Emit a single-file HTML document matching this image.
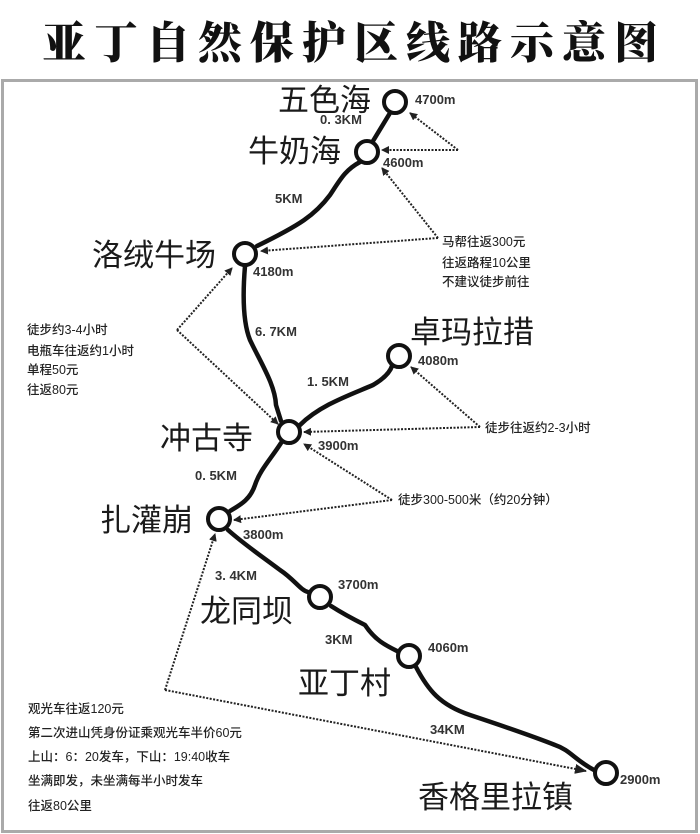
<!DOCTYPE html>
<html><head><meta charset="utf-8"><style>
html,body{margin:0;padding:0;background:#fff;}
svg{display:block;}
.t{font-family:"Liberation Sans","Noto Sans CJK SC",sans-serif;fill:#222;}
.n{font-size:31px;fill:#1a1a1a;}
.s{font-size:13px;font-weight:bold;fill:#333;}
.c{font-size:12.5px;fill:#222;font-weight:500;}
</style></head><body>
<svg width="700" height="834" viewBox="0 0 700 834" xmlns="http://www.w3.org/2000/svg">
<defs>
<marker id="a" markerWidth="8" markerHeight="8" refX="7" refY="4" orient="auto" markerUnits="userSpaceOnUse"><path d="M0,0 L8,4 L0,8 Z" fill="#222"/></marker>
<marker id="b" markerWidth="12" markerHeight="10" refX="11" refY="5" orient="auto" markerUnits="userSpaceOnUse"><path d="M0,0 L12,5 L0,10 Z" fill="#222"/></marker>
</defs>
<rect x="0" y="0" width="700" height="834" fill="#fff"/>
<rect x="2.5" y="80.5" width="694" height="751" fill="none" stroke="#aaa" stroke-width="3"/>
<text x="354" y="58" text-anchor="middle" class="t" style="font-family:'Noto Serif CJK SC','Noto Sans CJK SC',serif;font-size:44px;font-weight:900;letter-spacing:8px;fill:#111">亚丁自然保护区线路示意图</text>

<g fill="none" stroke="#111" stroke-width="4.5" stroke-linecap="round" stroke-linejoin="round">
<path d="M390,113 L373,141"/>
<path d="M360,162 C345,170 340,180 330,195 C315,215 300,225 257,246"/>
<path d="M245,266 C243,290 242,320 250,340 C262,365 275,385 276,405 L281,421"/>
<path d="M300,425 C320,405 350,395 373,385 C385,378 390,372 392,366"/>
<path d="M281,443 C270,460 260,470 255,485 C250,500 240,505 230,511"/>
<path d="M228,530 C245,545 260,555 280,570 C295,580 300,590 308,592"/>
<path d="M331,606 C345,615 355,620 365,625 C375,640 385,645 397,651"/>
<path d="M416,667 C428,690 440,705 470,715 C500,725 530,735 555,745 C570,750 575,760 594,770"/>
</g>
<g fill="#fff" stroke="#111" stroke-width="4">
<circle cx="395" cy="102" r="11"/>
<circle cx="367" cy="152" r="11"/>
<circle cx="245" cy="254" r="11"/>
<circle cx="399" cy="356" r="11"/>
<circle cx="289" cy="432" r="11"/>
<circle cx="219" cy="519" r="11"/>
<circle cx="320" cy="597" r="11"/>
<circle cx="409" cy="656" r="11"/>
<circle cx="606" cy="773" r="11"/>
</g>

<g fill="none" stroke="#222" stroke-width="2" stroke-dasharray="2,1.5">
<path d="M458,150 L410,113" marker-end="url(#a)"/>
<path d="M458,150 L382,150" marker-end="url(#a)"/>
<path d="M438,238 L382,168" marker-end="url(#a)"/>
<path d="M438,238 L261,251" marker-end="url(#a)"/>
<path d="M177,330 L232,268" marker-end="url(#a)"/>
<path d="M177,330 L278,424" marker-end="url(#a)"/>
<path d="M480,427 L304,432" marker-end="url(#a)"/>
<path d="M480,427 L411,367" marker-end="url(#a)"/>
<path d="M392,500 L304,444" marker-end="url(#a)"/>
<path d="M392,500 L234,520" marker-end="url(#a)"/>
<path d="M165,690 L215,534" marker-end="url(#a)"/>
<path d="M165,690 L586,771" marker-end="url(#b)"/>
</g>

<g class="t">
<text x="278" y="111" class="n">五色海</text>
<text x="248" y="162" class="n">牛奶海</text>
<text x="92" y="266" class="n">洛绒牛场</text>
<text x="410" y="343" class="n">卓玛拉措</text>
<text x="160" y="449" class="n">冲古寺</text>
<text x="100" y="531" class="n">扎灌崩</text>
<text x="200" y="622" class="n">龙同坝</text>
<text x="298" y="694" class="n">亚丁村</text>
<text x="418" y="808" class="n">香格里拉镇</text>

<text x="415" y="104" class="s">4700m</text>
<text x="320" y="124" class="s">0. 3KM</text>
<text x="383" y="167" class="s">4600m</text>
<text x="275" y="203" class="s">5KM</text>
<text x="253" y="276" class="s">4180m</text>
<text x="255" y="336" class="s">6. 7KM</text>
<text x="418" y="365" class="s">4080m</text>
<text x="307" y="386" class="s">1. 5KM</text>
<text x="318" y="450" class="s">3900m</text>
<text x="195" y="480" class="s">0. 5KM</text>
<text x="243" y="539" class="s">3800m</text>
<text x="215" y="580" class="s">3. 4KM</text>
<text x="338" y="589" class="s">3700m</text>
<text x="325" y="644" class="s">3KM</text>
<text x="428" y="652" class="s">4060m</text>
<text x="430" y="734" class="s">34KM</text>
<text x="620" y="784" class="s">2900m</text>

<text x="442" y="246" class="c">马帮往返300元</text>
<text x="442" y="267" class="c">往返路程10公里</text>
<text x="442" y="286" class="c">不建议徒步前往</text>
<text x="27" y="334" class="c">徒步约3-4小时</text>
<text x="27" y="355" class="c">电瓶车往返约1小时</text>
<text x="27" y="374" class="c">单程50元</text>
<text x="27" y="394" class="c">往返80元</text>
<text x="485" y="432" class="c">徒步往返约2-3小时</text>
<text x="398" y="504" class="c">徒步300-500米（约20分钟）</text>
<text x="28" y="713" class="c">观光车往返120元</text>
<text x="28" y="737" class="c">第二次进山凭身份证乘观光车半价60元</text>
<text x="28" y="761" class="c">上山：6：20发车，下山：19:40收车</text>
<text x="28" y="785" class="c">坐满即发，未坐满每半小时发车</text>
<text x="28" y="810" class="c">往返80公里</text>
</g>
</svg>
</body></html>
